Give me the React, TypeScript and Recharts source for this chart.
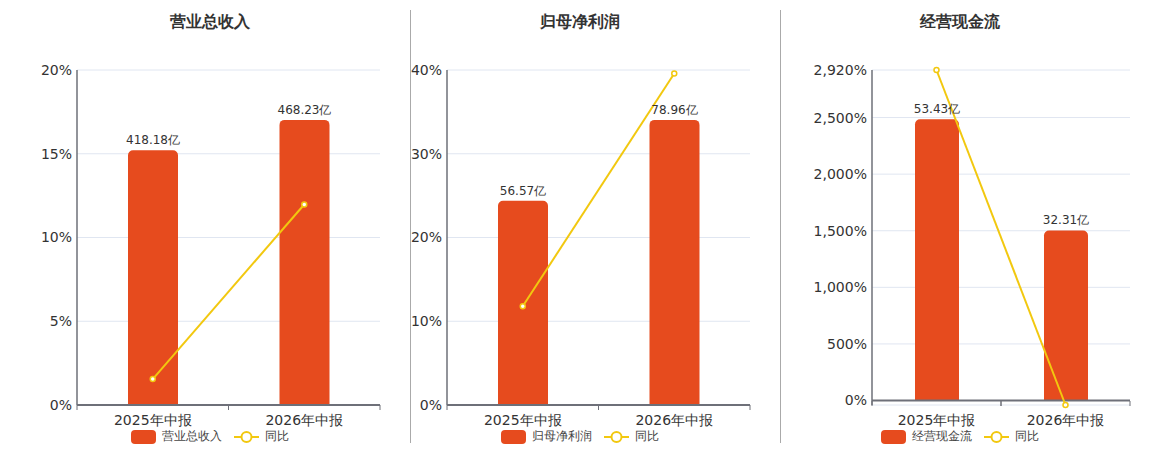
import { ComposedChart, Bar, Line, XAxis, YAxis, CartesianGrid, LabelList, ReferenceLine } from 'recharts';

const categories = ['2025年中报', '2026年中报'];

const revenue = [418.18, 468.23];
const revenueYoy = [1.55, 11.97];

const netProfit = [56.57, 78.96];
const netProfitYoy = [11.8, 39.58];

const cashFlow = [53.43, 32.31];
const cashFlowYoy = [2920, -39.53];

const revenueTicks = [0, 5, 10, 15, 20];
const netProfitTicks = [0, 10, 20, 30, 40];
const cashFlowTicks = [-39.53, 0, 500, 1000, 1500, 2000, 2500, 2920];

const BAR = '#e64b1e';
const LINE = '#f2c80f';
const AXIS = '#6e7079';
const GRID = '#e0e6f1';
const TEXT = '#333';
const FONT = '"DejaVu Sans", Verdana, sans-serif';

type Panel = {
  title: string;
  bars: number[];
  yoy: number[];
  ticks: number[];
  yDomain: [number, number];
  barDomain: [number, number];
  left: number;
  width: number;
  axisWidth: number;
  barSize: number;
  center: number;
  zeroLift: number;
};

const fmtPct = (v: number) => (v < 0 ? '' : `${v.toLocaleString('en-US')}%`);

function makeTick(band: number, zeroLift: number) {
  return function Tick(props: any) {
    const { x, y, payload } = props;
    const top = y - zeroLift;
    return (
      <g>
        <line x1={x - band / 2} x2={x - band / 2} y1={top} y2={top + 5} stroke={AXIS} strokeWidth={1} />
        <line x1={x + band / 2} x2={x + band / 2} y1={top} y2={top + 5} stroke={AXIS} strokeWidth={1} />
        <text x={x} y={y + 20} textAnchor="middle" fontSize={14} fill={TEXT} fontFamily={FONT}>
          {payload.value}
        </text>
      </g>
    );
  };
}

function LegendRow({ name }: { name: string }) {
  return (
    <div style={{ display: 'flex', alignItems: 'center', fontSize: 12, color: '#444', fontFamily: FONT, whiteSpace: 'nowrap' }}>
      <span style={{ width: 25, height: 14, background: BAR, borderRadius: 4, marginRight: 6, display: 'inline-block' }} />
      <span style={{ marginRight: 12 }}>{name}</span>
      <svg width={25} height={14} style={{ marginRight: 6 }}>
        <line x1={0} x2={25} y1={7} y2={7} stroke={LINE} strokeWidth={2} />
        <circle cx={12.5} cy={7} r={5} fill="#fff" stroke={LINE} strokeWidth={2} />
      </svg>
      <span>同比</span>
    </div>
  );
}

function ChartPanel({ p }: { p: Panel }) {
  const data = categories.map((c, i) => ({ name: c, value: p.bars[i], yoy: p.yoy[i] }));
  const plotWidth = p.width - p.axisWidth - 30;
  const Tick = makeTick(plotWidth / 2, p.zeroLift);
  return (
    <>
      <div
        style={{
          position: 'absolute', top: 12, left: p.center - 100, width: 200, textAlign: 'center',
          fontSize: 16, fontWeight: 'bold', color: TEXT, fontFamily: FONT,
        }}
      >
        {p.title}
      </div>
      <div style={{ position: 'absolute', top: 0, left: p.left }}>
        <ComposedChart
          width={p.width}
          height={450}
          data={data}
          margin={{ top: 70, right: 30, bottom: 15, left: 0 }}
          style={{ fontFamily: FONT }}
        >
          <CartesianGrid vertical={false} stroke={GRID} yAxisId="left" />
          <XAxis
            dataKey="name"
            height={30}
            tickLine={false}
            tickSize={0}
            tickMargin={0}
            axisLine={p.zeroLift === 0 ? { stroke: AXIS, strokeWidth: 2 } : false}
            tick={<Tick />}
            interval={0}
          />
          <YAxis
            yAxisId="left"
            width={p.axisWidth}
            domain={p.yDomain}
            ticks={p.ticks}
            tickFormatter={fmtPct}
            tickLine={false}
            tickSize={3}
            tickMargin={2}
            axisLine={{ stroke: AXIS, strokeWidth: 1.5 }}
            tick={{ fontSize: 14, fill: TEXT }}
          />
          <YAxis yAxisId="bar" orientation="right" hide domain={p.barDomain} />
          {p.zeroLift !== 0 && (
            <ReferenceLine yAxisId="left" y={0} stroke={AXIS} strokeWidth={2} />
          )}
          <Bar yAxisId="bar" dataKey="value" fill={BAR} barSize={p.barSize} radius={[5, 5, 0, 0]} isAnimationActive={false}>
            <LabelList
              dataKey="value"
              position="top"
              offset={6}
              formatter={(v: any) => `${v}亿`}
              style={{ fontSize: 12, fill: TEXT }}
            />
          </Bar>
          <Line
            yAxisId="left"
            dataKey="yoy"
            stroke={LINE}
            strokeWidth={2}
            dot={{ r: 2.5, fill: '#fff', stroke: LINE, strokeWidth: 1.5 }}
            activeDot={false}
            isAnimationActive={false}
          />
        </ComposedChart>
      </div>
      <div style={{ position: 'absolute', top: 428, left: p.center - 150, width: 300, display: 'flex', justifyContent: 'center' }}>
        <LegendRow name={p.title} />
      </div>
    </>
  );
}

const panels: Panel[] = [
  {
    title: '营业总收入', bars: revenue, yoy: revenueYoy, ticks: revenueTicks,
    yDomain: [0, 20], barDomain: [0, 468.23 * 1.175],
    left: 0, width: 410, axisWidth: 77, barSize: 50, center: 210, zeroLift: 0,
  },
  {
    title: '归母净利润', bars: netProfit, yoy: netProfitYoy, ticks: netProfitTicks,
    yDomain: [0, 40], barDomain: [0, 78.96 * 1.175],
    left: 380, width: 400, axisWidth: 67, barSize: 50, center: 580, zeroLift: 0,
  },
  {
    title: '经营现金流', bars: cashFlow, yoy: cashFlowYoy, ticks: cashFlowTicks,
    yDomain: [-39.53, 2920], barDomain: [(-39.53 / 2920) * 53.43 * 1.175, 53.43 * 1.175],
    left: 760, width: 400, axisWidth: 112, barSize: 44, center: 960, zeroLift: 4,
  },
];

export default function App() {
  return (
    <div style={{ position: 'absolute', top: 0, left: 0, width: 1160, height: 450, background: '#fff', overflow: 'hidden' }}>
      {panels.map((p) => (
        <ChartPanel key={p.title} p={p} />
      ))}
      <div style={{ position: 'absolute', left: 410, top: 10, width: 1, height: 433, background: '#aaa' }} />
      <div style={{ position: 'absolute', left: 780, top: 10, width: 1, height: 433, background: '#aaa' }} />
    </div>
  );
}
